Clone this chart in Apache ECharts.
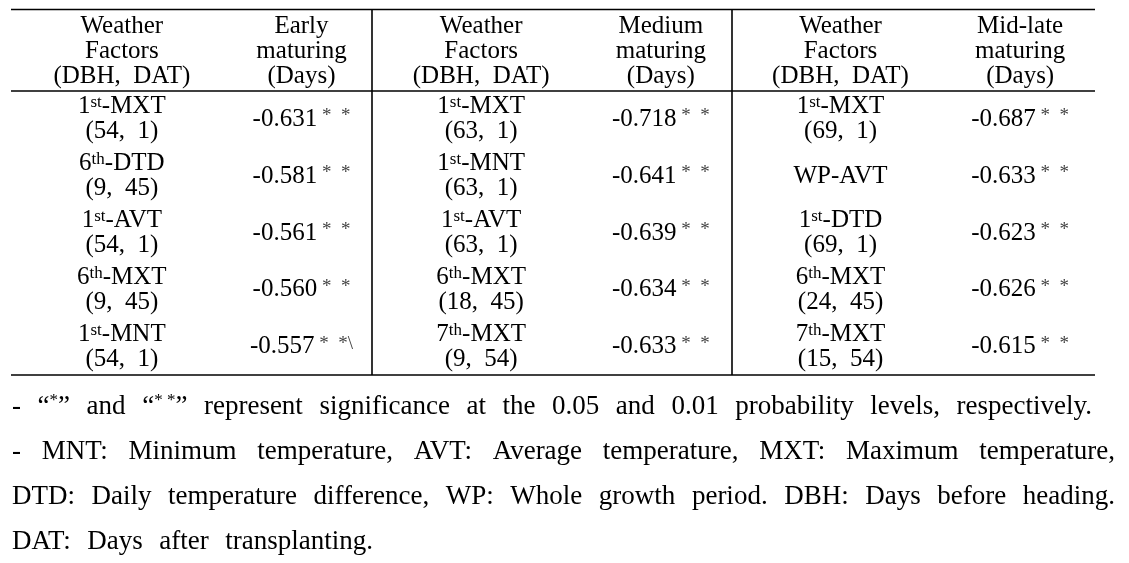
<!DOCTYPE html>
<html><head><meta charset="utf-8">
<script src="https://cdn.jsdelivr.net/npm/echarts@6/dist/echarts.min.js"></script>
<style>html,body{margin:0;padding:0;background:#fff}#c{width:1129px;height:563px}</style>
</head><body><div id="c"></div>
<script>
// ---------- data ----------
const columnHeaders = [
  'Weather\nFactors\n(DBH,  DAT)', 'Early\nmaturing\n(Days)',
  'Weather\nFactors\n(DBH,  DAT)', 'Medium\nmaturing\n(Days)',
  'Weather\nFactors\n(DBH,  DAT)', 'Mid-late\nmaturing\n(Days)'
];
const rowIds = ['1', '2', '3', '4', '5'];

const earlyFactors = ['1st-MXT', '6th-DTD', '1st-AVT', '6th-MXT', '1st-MNT'];
const earlyPeriods = ['(54,  1)', '(9,  45)', '(54,  1)', '(9,  45)', '(54,  1)'];
const earlyValues = [-0.631, -0.581, -0.561, -0.560, -0.557];
const earlySig = ['* *', '* *', '* *', '* *', '* *\\'];

const mediumFactors = ['1st-MXT', '1st-MNT', '1st-AVT', '6th-MXT', '7th-MXT'];
const mediumPeriods = ['(63,  1)', '(63,  1)', '(63,  1)', '(18,  45)', '(9,  54)'];
const mediumValues = [-0.718, -0.641, -0.639, -0.634, -0.633];
const mediumSig = ['* *', '* *', '* *', '* *', '* *'];

const lateFactors = ['1st-MXT', 'WP-AVT', '1st-DTD', '6th-MXT', '7th-MXT'];
const latePeriods = ['(69,  1)', '', '(69,  1)', '(24,  45)', '(15,  54)'];
const lateValues = [-0.687, -0.633, -0.623, -0.626, -0.615];
const lateSig = ['* *', '* *', '* *', '* *', '* *'];

const footnoteLines = [
  '- “{q|*}” and “{q|* *}” represent significance at the 0.05 and 0.01 probability levels, respectively.',
  '- MNT: Minimum temperature, AVT: Average temperature, MXT: Maximum temperature,',
  'DTD: Daily temperature difference, WP: Whole growth period. DBH: Days before heading.',
  'DAT: Days after transplanting.'
];

// ---------- styling / layout ----------
const FONT = '"Liberation Serif", "Times New Roman", serif';
const TABLE_FS = 25, NOTE_FS = 27;
const groups = [
  [earlyFactors, earlyPeriods, earlyValues, earlySig],
  [mediumFactors, mediumPeriods, mediumValues, mediumSig],
  [lateFactors, latePeriods, lateValues, lateSig]
];

function factorRich(f) {
  const m = f.match(/^(\d)(st|nd|rd|th)(.*)$/);
  if (!m) return f;
  return m[1] + '{sup|' + m[2] + '}' + m[3];
}
function sigRich(s) {
  return '{ast| ' + s.replace(/\* \*/, '*  *') + '}';
}

const cells = [];
groups.forEach(function (g, gi) {
  const [fac, per, val, sig] = g;
  for (let r = 0; r < fac.length; r++) {
    cells.push({ col: gi * 2, row: r, text: factorRich(fac[r]) + (per[r] ? '\n' + per[r] : '') });
    cells.push({ col: gi * 2 + 1, row: r, text: val[r].toFixed(3) + sigRich(sig[r]) });
  }
});

const cellRich = {
  sup: { fontSize: 17, fontFamily: FONT, lineHeight: 14, verticalAlign: 'top', fill: '#000' },
  ast: { fontSize: 19, fontFamily: FONT, lineHeight: 16, verticalAlign: 'top', fill: '#444' }
};

// ---------- footnotes (justified words) ----------
const mctx = document.createElement('canvas').getContext('2d');
const noteRich = { q: { fontSize: 17, fontFamily: FONT, lineHeight: 15, verticalAlign: 'top' } };
function measureWord(w) {
  let total = 0, last = 0;
  const re = /\{(\w+)\|([^}]*)\}/g;
  let m;
  while ((m = re.exec(w))) {
    mctx.font = NOTE_FS + 'px ' + FONT;
    total += mctx.measureText(w.slice(last, m.index)).width;
    mctx.font = noteRich[m[1]].fontSize + 'px ' + FONT;
    total += mctx.measureText(m[2]).width;
    last = re.lastIndex;
  }
  mctx.font = NOTE_FS + 'px ' + FONT;
  total += mctx.measureText(w.slice(last)).width;
  return total;
}
const noteX0 = 12;
const noteRight = [1092, 1115, 1115, null];
const noteY = [407, 452, 497, 542];
const graphics = [];
let prevGap = 12;
footnoteLines.forEach(function (line, li) {
  const words = line.match(/(?:\{[^}]*\}|[^\s{])+/g);
  const widths = words.map(measureWord);
  const sum = widths.reduce((a, b) => a + b, 0);
  let gap = prevGap;
  if (noteRight[li] != null && words.length > 1) gap = (noteRight[li] - noteX0 - sum) / (words.length - 1);
  prevGap = gap;
  let x = noteX0;
  words.forEach(function (w, wi) {
    graphics.push({
      type: 'text', x: x, y: noteY[li], z: 10,
      style: { text: w, rich: noteRich, fontSize: NOTE_FS, fontFamily: FONT, fill: '#000',
               align: 'left', verticalAlign: 'middle', lineHeight: 30 }
    });
    x += widths[wi] + gap;
  });
});

// ---------- table rules ----------
const ruleStyle = { stroke: '#000', lineWidth: 1.6 };
[[11, 9.5, 1095, 9.5], [11, 91, 1095, 91], [11, 375, 1095, 375],
 [372, 9.5, 372, 375], [732, 9.5, 732, 375]].forEach(function (s) {
  graphics.push({ type: 'line', z: 10, shape: { x1: s[0], y1: s[1], x2: s[2], y2: s[3] }, style: ruleStyle });
});

const chart = echarts.init(document.getElementById('c'), null, { renderer: 'canvas' });
chart.setOption({
  backgroundColor: '#fff',
  animation: false,
  grid: { left: 32, right: 19, top: 91, bottom: 188 },
  xAxis: {
    type: 'category', position: 'top', data: columnHeaders,
    axisLine: { show: false }, axisTick: { show: false }, splitLine: { show: false },
    axisLabel: { interval: 0, fontSize: TABLE_FS, lineHeight: 25, fontFamily: FONT, color: '#000', margin: 2 }
  },
  yAxis: {
    type: 'category', inverse: true, data: rowIds, show: false
  },
  series: [{
    type: 'custom',
    data: cells.map(c => [c.col, c.row]),
    encode: { x: 0, y: 1 },
    renderItem: function (params, api) {
      const p = api.coord([api.value(0), api.value(1)]);
      const cell = cells[params.dataIndex];
      return {
        type: 'text', x: p[0], y: p[1],
        style: { text: cell.text, rich: cellRich, fontSize: TABLE_FS, fontFamily: FONT, fill: '#000',
                 align: 'center', verticalAlign: 'middle', lineHeight: 25 }
      };
    }
  }],
  graphic: graphics
});
</script></body></html>
